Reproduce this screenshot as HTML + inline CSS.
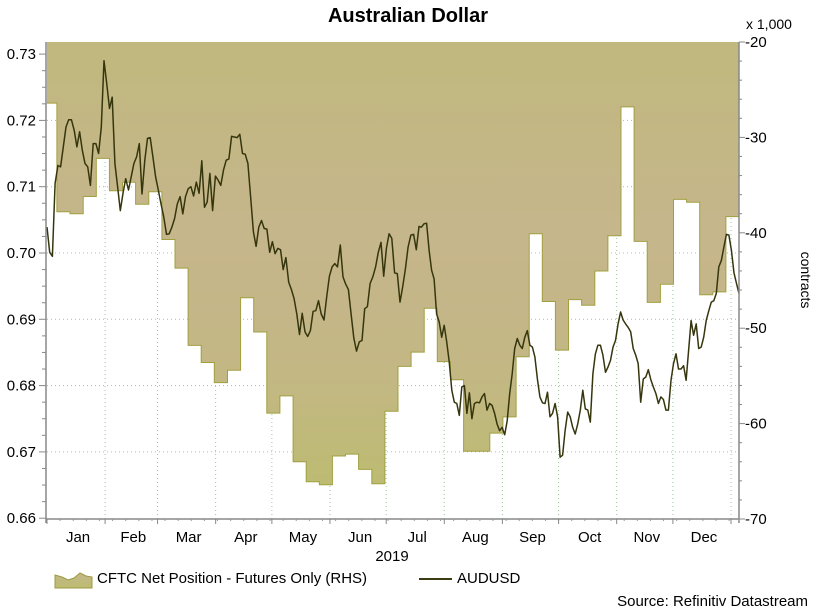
<!DOCTYPE html>
<html><head><meta charset="utf-8"><style>
html,body{margin:0;padding:0;background:#fff;}
svg{display:block;font-family:"Liberation Sans",Arial,sans-serif;}
</style></head><body>
<svg id="chart" width="816" height="611" viewBox="0 0 816 611">
<defs>
<linearGradient id="areaGrad" x1="0" y1="42" x2="0" y2="519" gradientUnits="userSpaceOnUse">
<stop offset="0" stop-color="#c0b87e"/>
<stop offset="0.4" stop-color="#c6b68c"/>
<stop offset="0.7" stop-color="#c3b784"/>
<stop offset="0.95" stop-color="#bcbc70"/>
</linearGradient>
<linearGradient id="legGrad" x1="0" y1="0" x2="0" y2="1">
<stop offset="0" stop-color="#c4b78a"/><stop offset="1" stop-color="#bcbc70"/>
</linearGradient>
</defs>
<text x="408" y="22" text-anchor="middle" font-size="20" font-weight="bold" fill="#000">Australian Dollar</text>
<text x="746" y="29" font-size="14" fill="#000">x 1,000</text>
<text transform="translate(801,280) rotate(90)" text-anchor="middle" font-size="14" fill="#000">contracts</text>
<g id="grid"></g>
<g id="area"></g>
<g id="line"></g>
<g id="axes"></g>
<text x="392" y="561" text-anchor="middle" font-size="15" fill="#000">2019</text>
<g>
<polygon points="55,588 55,575 62,577 68,580 74,578 80,573 86,576 92,577 92,588" fill="url(#legGrad)" stroke="#9d9a40" stroke-width="1"/>
<text x="97" y="583" font-size="15" fill="#000">CFTC Net Position - Futures Only (RHS)</text>
</g>
<g>
<line x1="419" y1="579" x2="452" y2="579" stroke="#3c3c12" stroke-width="2"/>
<text x="457" y="583" font-size="15" fill="#000">AUDUSD</text>
</g>
<text x="808" y="606" text-anchor="end" font-size="15" fill="#000">Source: Refinitiv Datastream</text>
</svg>
<script>
const months = ["Jan","Feb","Mar","Apr","May","Jun","Jul","Aug","Sep","Oct","Nov","Dec"];
const monthStartDays = [0,31,59,90,120,151,181,212,243,273,304,334,365];
const leftTicks = [0.66,0.67,0.68,0.69,0.70,0.71,0.72,0.73];
const rightTicks = [-70,-60,-50,-40,-30,-20];
const cftcStartDays = [-1.7,5.3,12.3,19.3,26.3,33.3,40.3,47.3,54.3,61.3,68.3,75.3,82.3,89.3,96.3,103.3,110.3,117.3,124.3,131.3,138.3,145.3,152.3,159.3,166.3,173.3,180.3,187.3,194.3,201.3,208.3,215.3,222.3,229.3,236.3,243.3,250.3,257.3,264.3,271.3,278.3,285.3,292.3,299.3,306.3,313.3,320.3,327.3,334.3,341.3,348.3,355.3,362.3];
const cftcValues = [-26.4,-37.8,-38,-36.2,-32.2,-35.6,-34.7,-37,-35.7,-40.7,-43.7,-51.8,-53.6,-55.7,-54.4,-46.8,-50.4,-58.9,-57.1,-64,-66.1,-66.4,-63.4,-63.2,-64.8,-66.3,-58.7,-54,-52.5,-47.9,-53.5,-55.4,-62.9,-62.9,-61,-59.3,-53,-40.1,-47.2,-52.3,-47,-47.6,-44,-40.3,-26.8,-40.9,-47.3,-45.4,-36.5,-36.8,-46.5,-46.2,-38.3];
const audusd = [0.7039,0.7001,0.6995,0.7105,0.7132,0.7130,0.7160,0.7190,0.7201,0.7201,0.7185,0.7160,0.7183,0.7155,0.7135,0.7130,0.7102,0.7165,0.7165,0.7150,0.7190,0.7290,0.7256,0.7218,0.7235,0.7135,0.7100,0.7064,0.7090,0.7112,0.7095,0.7115,0.7135,0.7145,0.7165,0.7089,0.7140,0.7173,0.7174,0.7145,0.7115,0.7095,0.7074,0.7054,0.7028,0.7029,0.7039,0.7052,0.7074,0.7085,0.7059,0.7085,0.7097,0.7100,0.7086,0.7107,0.7090,0.7139,0.7069,0.7077,0.7120,0.7064,0.7116,0.7110,0.7102,0.7125,0.7140,0.7142,0.7176,0.7175,0.7174,0.7179,0.7150,0.7149,0.7135,0.7085,0.7032,0.7010,0.7039,0.7049,0.7037,0.7036,0.7001,0.7017,0.6999,0.7007,0.7005,0.6975,0.6993,0.6956,0.6945,0.6931,0.6908,0.6877,0.6909,0.6881,0.6874,0.6883,0.6912,0.6913,0.6928,0.6908,0.6899,0.6934,0.6965,0.6979,0.6984,0.6979,0.7012,0.6964,0.6953,0.6945,0.6908,0.6872,0.6852,0.6866,0.6868,0.6916,0.6919,0.6954,0.6964,0.6979,0.7001,0.7016,0.6965,0.7007,0.7029,0.7022,0.6970,0.6969,0.6926,0.6949,0.6976,0.7009,0.7027,0.7028,0.7005,0.7040,0.7039,0.7044,0.7045,0.7004,0.6974,0.6961,0.6908,0.6896,0.6873,0.6891,0.6866,0.6836,0.6793,0.6775,0.6773,0.6755,0.6798,0.6800,0.6758,0.6789,0.6750,0.6773,0.6775,0.6774,0.6783,0.6788,0.6763,0.6773,0.6770,0.6758,0.6742,0.6732,0.6737,0.6726,0.6747,0.6788,0.6818,0.6856,0.6871,0.6861,0.6856,0.6873,0.6883,0.6861,0.6858,0.6843,0.6810,0.6783,0.6774,0.6773,0.6790,0.6753,0.6758,0.6773,0.6753,0.6692,0.6695,0.6732,0.6760,0.6753,0.6737,0.6727,0.6742,0.6763,0.6793,0.6765,0.6763,0.6745,0.6818,0.6848,0.6861,0.6861,0.6846,0.6820,0.6828,0.6838,0.6858,0.6868,0.6893,0.6911,0.6899,0.6893,0.6888,0.6881,0.6856,0.6846,0.6833,0.6775,0.6810,0.6813,0.6824,0.6809,0.6798,0.6788,0.6773,0.6783,0.6779,0.6763,0.6763,0.6808,0.6833,0.6848,0.6825,0.6825,0.6830,0.6808,0.6853,0.6898,0.6876,0.6893,0.6856,0.6858,0.6873,0.6898,0.6913,0.6926,0.6928,0.6939,0.6979,0.6989,0.7009,0.7028,0.7027,0.7004,0.6970,0.6954,0.6939];

const NS = "http://www.w3.org/2000/svg";
const X0 = 47, X1 = 739, Y0 = 42, Y1 = 519, DAYPX = (731 - 47) / 365;
const BREAK_I = 137, BREAK_X = 419;
const xDay = d => Math.max(X0, Math.min(X1, X0 + d * DAYPX));
const yL = v => 253 + (0.70 - v) * 6630;
const yR = v => Y0 + (-20 - v) * (Y1 - Y0) / 50;
const xIdx = i => i <= BREAK_I ? X0 + i * (BREAK_X - X0) / BREAK_I
  : BREAK_X + (i - BREAK_I) * (X1 - BREAK_X) / (audusd.length - 1 - BREAK_I);
function mk(tag, attrs, parent) {
  const e = document.createElementNS(NS, tag);
  for (const k in attrs) e.setAttribute(k, attrs[k]);
  parent.appendChild(e);
  return e;
}
const grid = document.getElementById('grid');
leftTicks.forEach(t => {
  if (t > 0.66 && t < 0.73) {
    const g = mk('line', {x1: X0, x2: X1, y1: yL(t), y2: yL(t), stroke: '#9cc79c', 'stroke-width': 1, 'stroke-dasharray': '1,3'}, grid);
    
    
  }
});
monthStartDays.slice(1).forEach(d => {
  const g = mk('line', {x1: xDay(d), x2: xDay(d), y1: Y0, y2: Y1, stroke: '#9cc79c', 'stroke-width': 1, 'stroke-dasharray': '1,3'}, grid);
  
  
});
const area = document.getElementById('area');
let pts = [[X0, Y0]];
cftcValues.forEach((v, i) => {
  const s = cftcStartDays[Math.min(i, cftcStartDays.length - 1)];
  const e = i + 1 < cftcStartDays.length ? cftcStartDays[i + 1] : s + 7;
  pts.push([xDay(s), yR(v)]); pts.push([xDay(e), yR(v)]);
});
pts.push([X1, Y0]);
const ap = mk('polygon', {points: pts.map(p => p[0].toFixed(1) + ',' + p[1].toFixed(1)).join(' '), fill: 'url(#areaGrad)'}, area);


const edge = mk('polyline', {points: pts.slice(1, -1).map(p => p[0].toFixed(1) + ',' + p[1].toFixed(1)).join(' '), fill: 'none', stroke: '#a0a040', 'stroke-width': 1}, area);


const line = document.getElementById('line');
const lp = mk('polyline', {points: audusd.map((v, i) => xIdx(i).toFixed(1) + ',' + yL(v).toFixed(1)).join(' '), fill: 'none', stroke: '#36360e', 'stroke-width': 1.5, 'stroke-linejoin': 'round'}, line);


const axes = document.getElementById('axes');
mk('line', {x1: 46, x2: 46, y1: Y0, y2: Y1 + 4, stroke: '#888', 'stroke-width': 1.5}, axes);
mk('line', {x1: X1, x2: X1, y1: Y0, y2: Y1 + 4, stroke: '#888', 'stroke-width': 1.5}, axes);
mk('line', {x1: 46, x2: X1, y1: Y1, y2: Y1, stroke: '#888', 'stroke-width': 1.5}, axes);
for (let v = 0.66; v <= 0.7301; v += 0.0025) {
  const major = Math.abs(v * 100 - Math.round(v * 100)) < 0.01;
  mk('line', {x1: major ? 39 : 42, x2: 46, y1: yL(v), y2: yL(v), stroke: '#888'}, axes);
}
leftTicks.forEach(t => {
  const tx = mk('text', {x: 36, y: yL(t) + 5, 'text-anchor': 'end', 'font-size': 15, fill: '#000'}, axes);
  tx.textContent = t.toFixed(2);
  
  
});
for (let v = -70; v <= -20; v += 2) {
  mk('line', {x1: X1, x2: X1 + (v % 10 === 0 ? 6 : 3), y1: yR(v), y2: yR(v), stroke: '#888'}, axes);
}
rightTicks.forEach(t => {
  const tx = mk('text', {x: 745, y: yR(t) + 5, 'font-size': 15, fill: '#000'}, axes);
  tx.textContent = String(t);
  
  
});
for (let d = 0; d < 372; d += 7) mk('line', {x1: xDay(d), x2: xDay(d), y1: Y1, y2: Y1 + 2, stroke: '#999'}, axes);
monthStartDays.forEach(d => mk('line', {x1: xDay(d), x2: xDay(d), y1: Y1, y2: Y1 + 5, stroke: '#888'}, axes));
months.forEach((m, i) => {
  const tx = mk('text', {x: (xDay(monthStartDays[i]) + xDay(monthStartDays[i + 1])) / 2 + 2, y: 542, 'text-anchor': 'middle', 'font-size': 15, fill: '#000'}, axes);
  tx.textContent = m;
  
  
});
</script>
</body></html>
